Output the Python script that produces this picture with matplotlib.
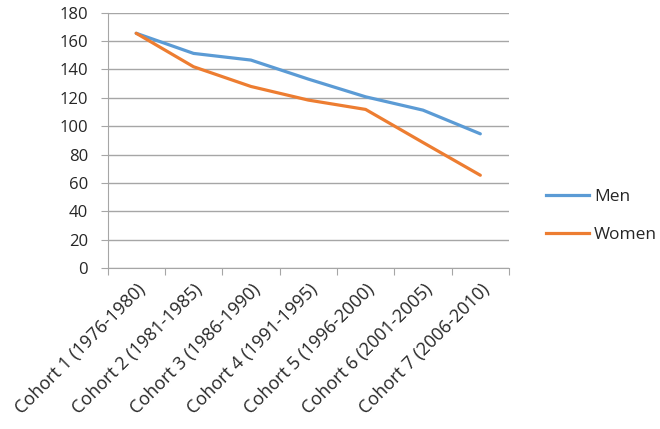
import matplotlib
matplotlib.use("Agg")
import matplotlib.pyplot as plt
from matplotlib.lines import Line2D

categories = ["Cohort 1 (1976-1980)", "Cohort 2 (1981-1985)", "Cohort 3 (1986-1990)",
              "Cohort 4 (1991-1995)", "Cohort 5 (1996-2000)", "Cohort 6 (2001-2005)",
              "Cohort 7 (2006-2010)"]
men = [165.5, 151.3, 146.6, 133.2, 120.7, 111.3, 94.6]
women = [165.5, 141.9, 128.0, 118.4, 111.8, 88.5, 65.4]
yticks = [0, 20, 40, 60, 80, 100, 120, 140, 160, 180]

plt.rcParams['font.family'] = ['Open Sans', 'DejaVu Sans']

fig = plt.figure(figsize=(6.6, 4.29), dpi=100)
ax = fig.add_axes([107.5/660, 1-268/429, (509-107.5)/660, (268-12.7)/429])

x = list(range(len(categories)))
blue = '#5B9BD5'
orange = '#ED7D31'
ax.plot(x, men, color=blue, lw=2.3, solid_capstyle='round', label='Men')
ax.plot(x, women, color=orange, lw=2.3, solid_capstyle='round', label='Women')

ax.set_xlim(-0.5, len(categories) - 0.5)
ax.set_ylim(0, 180)
ax.set_yticks(yticks)
ax.set_yticklabels([str(v) for v in yticks], fontsize=12, color='#262626')
ax.yaxis.grid(True, color='#A6A6A6', lw=1)
ax.set_axisbelow(True)

ax.set_xticks([i - 0.5 for i in range(len(categories) + 1)])
ax.set_xticklabels([])
ax.set_xticks(x, minor=True)
ax.set_xticklabels(categories, minor=True, rotation=45, ha='right', va='top',
                   rotation_mode='anchor', fontsize=13, color='#262626')
ax.tick_params(axis='x', which='minor', length=0, pad=9)
ax.tick_params(axis='x', which='major', length=5, color='#A6A6A6', direction='out')
ax.tick_params(axis='y', length=5, color='#A6A6A6', direction='out', pad=9)

for s in ['top', 'right']:
    ax.spines[s].set_visible(False)
for s in ['left', 'bottom']:
    ax.spines[s].set_color('#A6A6A6')

leg = fig.legend(handles=[Line2D([0], [0], color=blue, lw=2.3), Line2D([0], [0], color=orange, lw=2.3)],
                 labels=['Men', 'Women'], loc='center left', bbox_to_anchor=(530/660, 1-216/429),
                 frameon=False, fontsize=12.5, handlelength=2.5, labelspacing=1.25, handletextpad=0.3)
for t in leg.get_texts():
    t.set_color('#262626')

fig.savefig('out.png', dpi=100)
